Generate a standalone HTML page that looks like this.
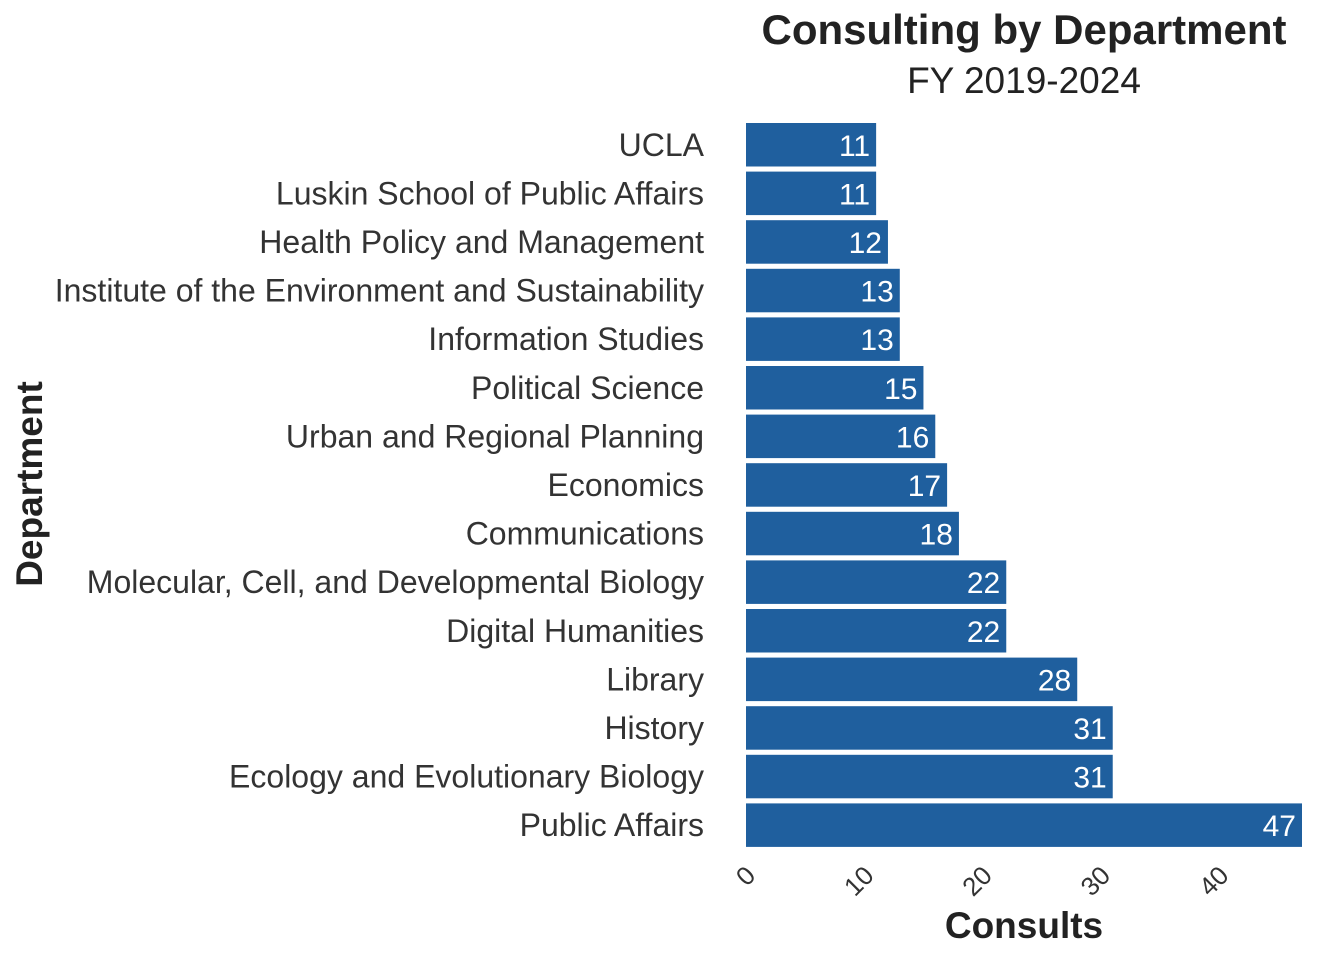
<!DOCTYPE html>
<html><head><meta charset="utf-8"><style>
body{margin:0;background:#fff;}
svg{display:block;font-family:"Liberation Sans",sans-serif;}
</style></head><body>
<svg id="chart" width="1344" height="960">
<text x="1024" y="44" text-anchor="middle" font-size="42" font-weight="bold" fill="#222">Consulting by Department</text>
<text x="1024" y="93" text-anchor="middle" font-size="37" fill="#222">FY 2019-2024</text>
<text transform="translate(42,484) rotate(-90)" text-anchor="middle" font-size="37" font-weight="bold" fill="#222">Department</text>
<text x="1024" y="938" text-anchor="middle" font-size="37" font-weight="bold" fill="#222">Consults</text>
<g id="bars"></g><g id="ylabels"></g><g id="xticks"></g>
</svg>
<script>
const categories=["UCLA","Luskin School of Public Affairs","Health Policy and Management","Institute of the Environment and Sustainability","Information Studies","Political Science","Urban and Regional Planning","Economics","Communications","Molecular, Cell, and Developmental Biology","Digital Humanities","Library","History","Ecology and Evolutionary Biology","Public Affairs"];
const values=[11,11,12,13,13,15,16,17,18,22,22,28,31,31,47];
const tickValues=[0,10,20,30,40];
const NS="http://www.w3.org/2000/svg";
const x0=746,xMax=47,x1=1302;
function xs(v){return x0+(v/xMax)*(x1-x0);}
const top0=123,step=48.6,bh=43.5;
function ys(i){return top0+i*step;}
function mk(tag,attrs,parent){const e=document.createElementNS(NS,tag);for(const k in attrs)e.setAttribute(k,attrs[k]);parent.appendChild(e);return e;}
const gb=document.getElementById('bars'),gl=document.getElementById('ylabels'),gt=document.getElementById('xticks');
categories.forEach((c,i)=>{
  const y=ys(i);
  const r=mk('rect',{x:x0,y:y,width:xs(values[i])-x0,height:bh,fill:'#1f5f9e'},gb);
  
  
  const v=mk('text',{x:xs(values[i])-6,y:y+bh/2+11,'text-anchor':'end','font-size':30,fill:'#fff'},gb);
  v.textContent=values[i];
  
  
  const l=mk('text',{x:704,y:y+bh/2+11,'text-anchor':'end','font-size':32,fill:'#333'},gl);
  l.textContent=c;
  
  
});
tickValues.forEach(t=>{
  const x=xs(t)+11;
  const tx=mk('text',{transform:`translate(${x},877) rotate(-45)`,'text-anchor':'end','font-size':26,fill:'#333'},gt);
  tx.textContent=t;
  
  
});
</script>
</body></html>
